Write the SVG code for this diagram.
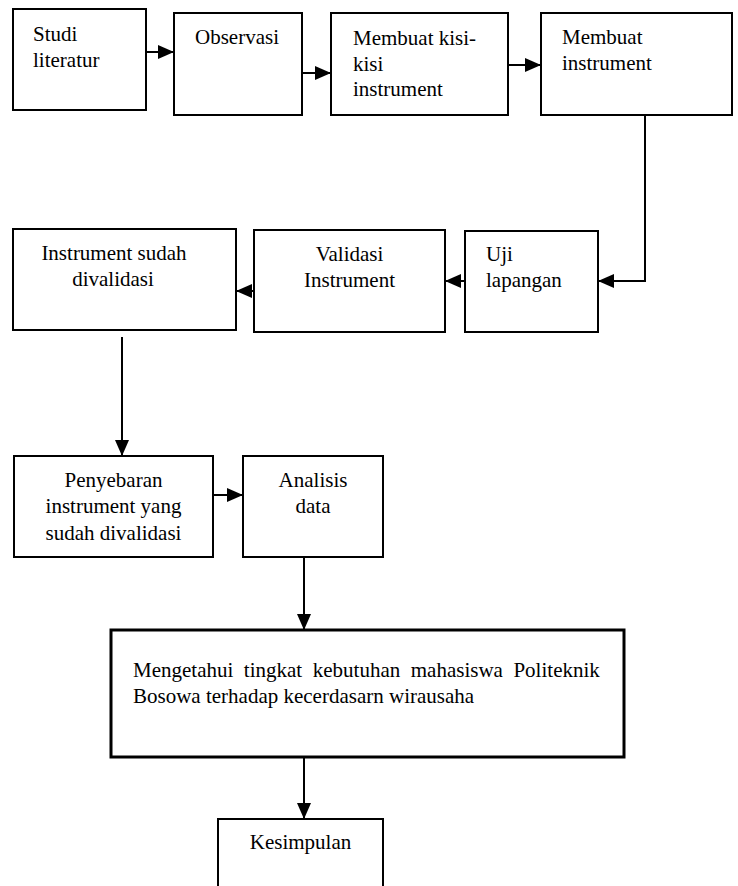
<svg xmlns="http://www.w3.org/2000/svg" width="738" height="886" viewBox="0 0 738 886">
<style>
.box{fill:#fff;stroke:#000;stroke-width:2}
.big{fill:#fff;stroke:#000;stroke-width:3}
text{font-family:"Liberation Serif","Times New Roman",serif;font-size:21px;fill:#000}
.c{text-anchor:middle}
.con{fill:none;stroke:#000;stroke-width:2}
</style>
<defs>
<marker id="ah" markerUnits="userSpaceOnUse" markerWidth="16" markerHeight="14" refX="16" refY="7" orient="auto">
<path d="M0,0 L16,7 L0,14 z" fill="#000"/>
</marker>
</defs>
<rect width="738" height="886" fill="#fff"/>
<g id="n1"><rect class="box" x="13" y="9" width="133" height="101"/><text x="33" y="41">Studi</text><text x="33" y="67">literatur</text></g>
<g id="n2"><rect class="box" x="174" y="13" width="128" height="102"/><text x="195" y="44">Observasi</text></g>
<g id="n3"><rect class="box" x="331" y="13" width="177" height="102"/><text x="353" y="45">Membuat kisi-</text><text x="353" y="71">kisi</text><text x="353" y="96">instrument</text></g>
<g id="n4"><rect class="box" x="541" y="13" width="191" height="102"/><text x="562" y="44">Membuat</text><text x="562" y="70">instrument</text></g>
<g id="n5"><rect class="box" x="465" y="231" width="133" height="101"/><text x="486" y="261">Uji</text><text x="486" y="287">lapangan</text></g>
<g id="n6"><rect class="box" x="254" y="230" width="191" height="102"/><text class="c" x="349.5" y="261">Validasi</text><text class="c" x="349.5" y="287">Instrument</text></g>
<g id="n7"><rect class="box" x="13" y="229" width="223" height="101"/><text class="c" x="114" y="260">Instrument sudah</text><text class="c" x="113" y="286">divalidasi</text></g>
<g id="n8"><rect class="box" x="14" y="456" width="199" height="101"/><text class="c" x="113.5" y="487">Penyebaran</text><text class="c" x="113.5" y="513">instrument yang</text><text class="c" x="113.5" y="540">sudah divalidasi</text></g>
<g id="n9"><rect class="box" x="243" y="456" width="140" height="101"/><text class="c" x="313" y="487">Analisis</text><text class="c" x="313" y="513">data</text></g>
<g id="n10"><rect class="big" x="111" y="630" width="513" height="127"/><text x="133" y="677" word-spacing="5.3">Mengetahui tingkat kebutuhan mahasiswa Politeknik</text><text x="133" y="703">Bosowa terhadap kecerdasarn wirausaha</text></g>
<g id="n11"><rect class="box" x="218" y="819" width="165" height="80"/><text class="c" x="300.5" y="849">Kesimpulan</text></g>
<g id="connectors">
<line class="con" x1="146" y1="52" x2="174" y2="52" marker-end="url(#ah)"/>
<line class="con" x1="302" y1="73" x2="331" y2="73" marker-end="url(#ah)"/>
<line class="con" x1="508" y1="65" x2="541" y2="65" marker-end="url(#ah)"/>
<path class="con" d="M645,115 V281 H598" marker-end="url(#ah)"/>
<line class="con" x1="465" y1="281" x2="445" y2="281" marker-end="url(#ah)"/>
<line class="con" x1="254" y1="291" x2="236" y2="291" marker-end="url(#ah)"/>
<line class="con" x1="122" y1="337" x2="122" y2="456" marker-end="url(#ah)"/>
<line class="con" x1="213" y1="495" x2="243" y2="495" marker-end="url(#ah)"/>
<line class="con" x1="304" y1="557" x2="304" y2="630" marker-end="url(#ah)"/>
<line class="con" x1="304" y1="757" x2="304" y2="819" marker-end="url(#ah)"/>
</g>
</svg>
